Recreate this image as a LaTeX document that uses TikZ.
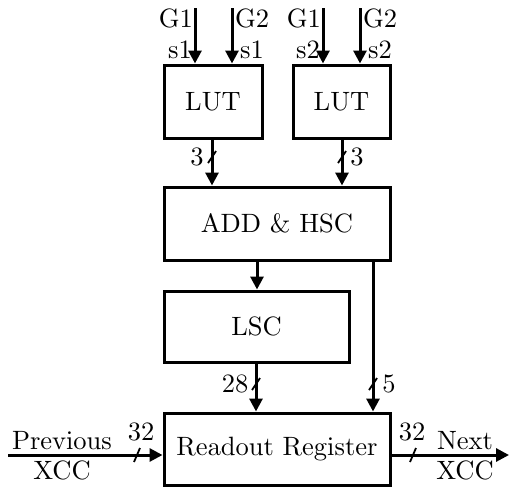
\documentclass[tikz,border=0pt]{standalone}
\usetikzlibrary{arrows.meta}
\font\diagrm=cmr10 at 26.5pt
\begin{document}
\begin{tikzpicture}[x=1pt,y=-1pt,
  every node/.style={font=\diagrm},
  block/.style={draw,line width=3pt,minimum height=73pt,inner sep=0pt},
  wire/.style={line width=3pt},
  arr/.style={wire,-{Triangle[length=13pt,width=13pt]}},
  bus/.style={line width=1.8pt},
  lbl/.style={inner sep=0pt}]
\useasboundingbox (0,0) rectangle (509,488);
\node[block,minimum width=98pt] (lut1) at (213,101.5) {LUT};
\node[block,minimum width=97pt] (lut2) at (341.5,101.5) {LUT};
\node[block,minimum width=226pt] (add) at (277,223.5) {ADD \& HSC};
\node[block,minimum width=185pt,minimum height=71pt] (lsc) at (256.5,326.5) {LSC};
\node[block,minimum width=226pt,minimum height=72pt] (rr) at (277,449) {Readout Register};
% inputs
\coordinate (i1) at (195,8);
\coordinate (i2) at (232,8);
\coordinate (i3) at (323,8);
\coordinate (i4) at (360,8);
\draw[arr] (i1) -- (i1 |- lut1.north);
\draw[arr] (i2) -- (i2 |- lut1.north);
\draw[arr] (i3) -- (i3 |- lut2.north);
\draw[arr] (i4) -- (i4 |- lut2.north);
\node[lbl,anchor=east] (g1a) at (193,18) {G1};
\node[lbl,anchor=east] (s1a) at (192,50) {s1};
\node[lbl,anchor=west] (g2a) at (235,18) {G2};
\node[lbl,anchor=west] (s1b) at (240,50) {s1};
\node[lbl,anchor=east] (g1b) at (321,18) {G1};
\node[lbl,anchor=east] (s2a) at (320,50) {s2};
\node[lbl,anchor=west] (g2b) at (363,18) {G2};
\node[lbl,anchor=west] (s2b) at (368,50) {s2};
% LUT to ADD
\coordinate (a1) at (212,0);
\coordinate (a2) at (342,0);
\draw[arr] (a1 |- lut1.south) -- (a1 |- add.north);
\draw[arr] (a2 |- lut2.south) -- (a2 |- add.north);
\coordinate (k1) at (212,157);
\coordinate (k2) at (342,157);
\draw[bus] ([shift={(-4,6)}]k1) -- ([shift={(4,-6)}]k1);
\draw[bus] ([shift={(-4,6)}]k2) -- ([shift={(4,-6)}]k2);
\node[lbl] (n3a) at (197,157) {3};
\node[lbl] (n3b) at (357,157) {3};
% ADD to LSC and RR
\coordinate (b1) at (257,0);
\coordinate (b2) at (373,0);
\draw[arr] (b1 |- add.south) -- (b1 |- lsc.north);
\draw[arr] (b2 |- add.south) -- (b2 |- rr.north);
\coordinate (c1) at (256,0);
\draw[arr] (c1 |- lsc.south) -- (c1 |- rr.north);
\coordinate (k3) at (256,384);
\coordinate (k4) at (373,384);
\draw[bus] ([shift={(-4,6)}]k3) -- ([shift={(4,-6)}]k3);
\draw[bus] ([shift={(-4,6)}]k4) -- ([shift={(4,-6)}]k4);
\node[lbl] (n28) at (235,384) {28};
\node[lbl] (n5) at (389,384) {5};
% horizontal
\coordinate (pin) at (8,455);
\coordinate (pout) at (509,455);
\draw[arr] (pin) -- (pin -| rr.west);
\draw[arr] (pin -| rr.east) -- (pout);
\coordinate (k5) at (137,455);
\coordinate (k6) at (413,455);
\draw[bus] ([shift={(-3,7)}]k5) -- ([shift={(3,-7)}]k5);
\draw[bus] ([shift={(-3,7)}]k6) -- ([shift={(3,-7)}]k6);
\node[lbl] (n32a) at (141,432) {32};
\node[lbl] (n32b) at (412,432) {32};
\node[lbl] (prev) at (62,440) {Previous};
\node[lbl] (xa) at (62,470) {XCC};
\node[lbl] (next) at (465,440) {Next};
\node[lbl] (xb) at (465,470) {XCC};
\end{tikzpicture}
\end{document}
